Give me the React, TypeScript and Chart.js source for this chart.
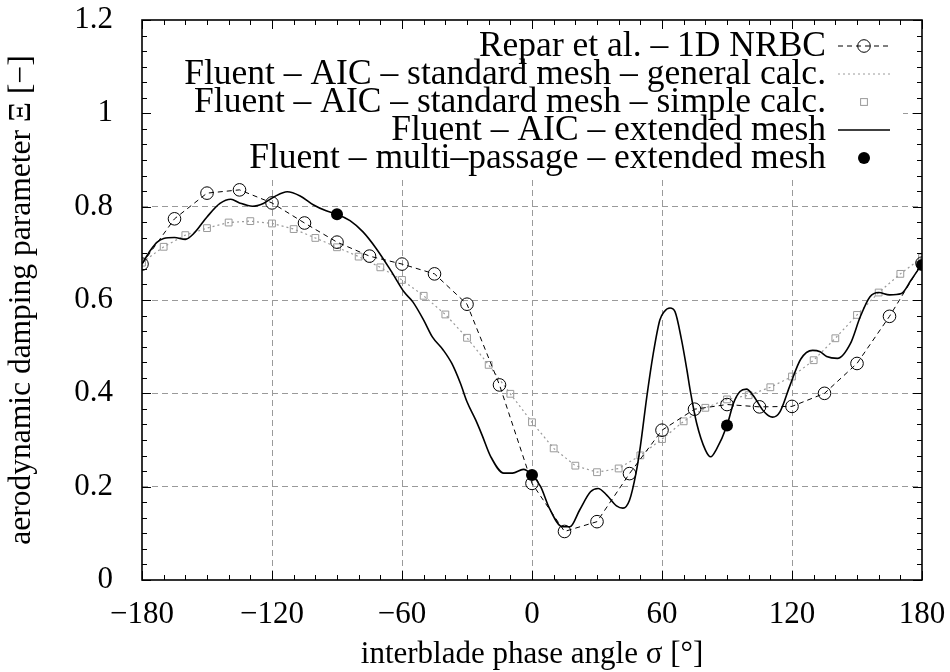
import React, { useEffect, useRef } from 'react';
import { Chart, registerables } from 'chart.js';
Chart.register(...registerables);

// Repar et al. – 1D NRBC
const reparAngles = [-180, -165, -150, -135, -120, -105, -90, -75, -60, -45, -30, -15, 0, 15, 30, 45, 60, 75, 90, 105, 120, 135, 150, 165, 180];
const reparValues = [0.677, 0.774, 0.829, 0.836, 0.808, 0.765, 0.724, 0.694, 0.677, 0.656, 0.591, 0.418, 0.207, 0.104, 0.125, 0.228, 0.321, 0.366, 0.376, 0.371, 0.372, 0.4, 0.464, 0.565, 0.679];

// Fluent – AIC – standard mesh
const stdAngles = [-180, -170, -160, -150, -140, -130, -120, -110, -100, -90, -80, -70, -60, -50, -40, -30, -20, -10, 0, 10, 20, 30, 40, 50, 60, 70, 80, 90, 100, 110, 120, 130, 140, 150, 160, 170, 180];
const generalCalcValues = [0.68, 0.714, 0.739, 0.754, 0.766, 0.769, 0.764, 0.752, 0.733, 0.713, 0.693, 0.67, 0.643, 0.609, 0.569, 0.519, 0.461, 0.399, 0.338, 0.282, 0.245, 0.231, 0.239, 0.267, 0.302, 0.34, 0.369, 0.387, 0.396, 0.413, 0.436, 0.471, 0.518, 0.568, 0.616, 0.656, 0.691];
const simpleCalcValues = [0.68, 0.714, 0.739, 0.754, 0.766, 0.769, 0.764, 0.752, 0.733, 0.713, 0.693, 0.67, 0.643, 0.609, 0.569, 0.519, 0.461, 0.399, 0.338, 0.282, 0.245, 0.231, 0.239, 0.267, 0.302, 0.34, 0.369, 0.387, 0.396, 0.413, 0.436, 0.471, 0.518, 0.568, 0.616, 0.656, 0.691];

// Fluent – AIC – extended mesh
const extAngles = [-180, -176, -173, -170, -165, -160, -156, -150, -144, -139, -135, -129, -124, -119, -113, -107, -101, -95, -90, -84, -78, -72, -65, -59, -55, -50, -46, -41, -37, -33, -30, -26, -23, -19, -13, -9, -4, 0, 4, 8, 14, 17.5, 22, 27, 30.5, 34.5, 39, 42, 45, 48, 50, 53, 56, 59, 61, 63.7, 66, 69, 71.5, 73, 76, 80, 82.5, 85, 90, 93, 96, 99, 102, 107, 111, 114.5, 119, 124, 129.5, 133, 136, 141, 147, 151.5, 156, 160, 165, 170.5, 175, 180];
const extValues = [0.677, 0.707, 0.724, 0.732, 0.734, 0.73, 0.743, 0.778, 0.807, 0.816, 0.808, 0.801, 0.807, 0.821, 0.832, 0.823, 0.804, 0.791, 0.784, 0.77, 0.746, 0.711, 0.662, 0.617, 0.596, 0.557, 0.521, 0.493, 0.464, 0.421, 0.382, 0.343, 0.31, 0.264, 0.229, 0.229, 0.237, 0.225, 0.2, 0.154, 0.114, 0.114, 0.15, 0.189, 0.196, 0.182, 0.159, 0.154, 0.171, 0.229, 0.286, 0.393, 0.486, 0.557, 0.575, 0.583, 0.575, 0.515, 0.45, 0.407, 0.336, 0.279, 0.264, 0.279, 0.331, 0.379, 0.404, 0.409, 0.396, 0.361, 0.349, 0.361, 0.416, 0.473, 0.492, 0.489, 0.479, 0.475, 0.507, 0.564, 0.607, 0.616, 0.611, 0.614, 0.643, 0.677];

// Fluent – multi–passage – extended mesh
const multiAngles = [-90, 0, 90, 180];
const multiValues = [0.784, 0.225, 0.331, 0.675];

const xTickValues = [-180, -120, -60, 0, 60, 120, 180];
const yTickValues = [0, 0.2, 0.4, 0.6, 0.8, 1, 1.2];

const legendLabels = [
  'Repar et al. – 1D NRBC',
  'Fluent – AIC – standard mesh – general calc.',
  'Fluent – AIC – standard mesh – simple calc.',
  'Fluent – AIC – extended mesh',
  'Fluent – multi–passage – extended mesh',
];

const xTitle = 'interblade phase angle σ [°]';
const yTitle = 'aerodynamic damping parameter Ξ [−]';

const FONT = '"Liberation Serif", "Times New Roman", serif';
const GRAY = '#9a9a9a';

const zip = (xs: number[], ys: number[]) => xs.map((x, i) => ({ x, y: ys[i] }));

const framePlugin = {
  id: 'frameAndKey',
  beforeDatasetsDraw(chart: any) {
    const { ctx, chartArea } = chart;
    const { left, top } = chartArea;
    ctx.save();
    // opaque key box
    ctx.fillStyle = '#fff';
    ctx.fillRect(left + 1, top + 1, 902 - left, 176 - top);
    const textRight = 826;
    const s0 = 838;
    const s1 = 890;
    const sm = (s0 + s1) / 2;
    const baselines = [56, 84, 112, 140, 168];
    ctx.font = `35.5px ${FONT}`;
    ctx.fillStyle = '#000';
    ctx.textAlign = 'right';
    ctx.textBaseline = 'alphabetic';
    legendLabels.forEach((t, i) => ctx.fillText(t, textRight, baselines[i]));
    const cy = baselines.map((b) => b - 10);
    // 1 dashed + circle
    ctx.strokeStyle = '#000';
    ctx.lineWidth = 1;
    ctx.setLineDash([5, 4]);
    ctx.beginPath();
    ctx.moveTo(s0, cy[0]);
    ctx.lineTo(s1, cy[0]);
    ctx.stroke();
    ctx.setLineDash([]);
    ctx.beginPath();
    ctx.arc(sm, cy[0], 6.3, 0, Math.PI * 2);
    ctx.stroke();
    // 2 dotted gray
    ctx.strokeStyle = GRAY;
    ctx.setLineDash([2, 3]);
    ctx.beginPath();
    ctx.moveTo(s0, cy[1]);
    ctx.lineTo(s1, cy[1]);
    ctx.stroke();
    ctx.setLineDash([]);
    // 3 gray square
    ctx.strokeRect(sm - 3.4, cy[2] - 3.4, 6.8, 6.8);
    // 4 solid
    ctx.strokeStyle = '#000';
    ctx.lineWidth = 1.6;
    ctx.beginPath();
    ctx.moveTo(s0, cy[3]);
    ctx.lineTo(s1, cy[3]);
    ctx.stroke();
    // 5 filled dot
    ctx.fillStyle = '#000';
    ctx.beginPath();
    ctx.arc(sm, cy[4], 6, 0, Math.PI * 2);
    ctx.fill();
    ctx.restore();
  },
  afterDatasetsDraw(chart: any) {
    const { ctx, chartArea, scales } = chart;
    const { left, top, right, bottom } = chartArea;
    const xs = scales.x;
    const ys = scales.y;
    ctx.save();
    ctx.strokeStyle = '#000';
    ctx.lineWidth = 1;
    const major = 9;
    const minor = 5;
    for (let v = -180; v <= 180; v += 10) {
      const px = Math.round(xs.getPixelForValue(v)) + 0.5;
      const len = v % 60 === 0 ? major : minor;
      ctx.beginPath();
      ctx.moveTo(px, bottom);
      ctx.lineTo(px, bottom - len);
      ctx.moveTo(px, top);
      ctx.lineTo(px, top + len);
      ctx.stroke();
    }
    for (let i = 0; i <= 36; i++) {
      const v = (i * 1.2) / 36;
      const py = Math.round(ys.getPixelForValue(v)) + 0.5;
      const len = i % 6 === 0 ? major : minor;
      ctx.beginPath();
      ctx.moveTo(left, py);
      ctx.lineTo(left + len, py);
      ctx.moveTo(right, py);
      ctx.lineTo(right - len, py);
      ctx.stroke();
    }
    ctx.lineWidth = 1.6;
    ctx.strokeRect(left, top, right - left, bottom - top);
    ctx.restore();
  },
};

export default function App() {
  const ref = useRef<HTMLCanvasElement>(null);
  useEffect(() => {
    document.body.style.margin = '0';
    const chart = new Chart(ref.current as HTMLCanvasElement, {
      type: 'scatter',
      data: {
        datasets: [
          {
            label: legendLabels[4],
            data: zip(multiAngles, multiValues),
            showLine: false,
            pointStyle: 'circle',
            pointRadius: 6,
            pointBackgroundColor: '#000',
            pointBorderColor: '#000',
            pointBorderWidth: 0,
            order: 0,
          },
          {
            label: legendLabels[3],
            data: zip(extAngles, extValues),
            showLine: true,
            borderColor: '#000',
            borderWidth: 1.6,
            pointRadius: 0,
            cubicInterpolationMode: 'monotone',
            order: 1,
          },
          {
            label: legendLabels[0],
            data: zip(reparAngles, reparValues),
            showLine: true,
            borderColor: '#000',
            borderWidth: 1,
            borderDash: [5, 4],
            pointStyle: 'circle',
            pointRadius: 6.3,
            pointBackgroundColor: 'rgba(0,0,0,0)',
            pointBorderColor: '#000',
            pointBorderWidth: 1,
            order: 2,
          },
          {
            label: legendLabels[2],
            data: zip(stdAngles, simpleCalcValues),
            showLine: false,
            pointStyle: 'rect',
            pointRadius: 4.8,
            pointBackgroundColor: 'rgba(0,0,0,0)',
            pointBorderColor: GRAY,
            pointBorderWidth: 1,
            order: 3,
          },
          {
            label: legendLabels[1],
            data: zip(stdAngles, generalCalcValues),
            showLine: true,
            borderColor: GRAY,
            borderWidth: 1.2,
            borderDash: [2, 3],
            pointRadius: 0,
            order: 4,
          },
        ],
      },
      options: {
        animation: false,
        responsive: false,
        maintainAspectRatio: false,
        devicePixelRatio: 1,
        layout: { padding: { top: 20, right: 28, left: 0, bottom: 0 } },
        plugins: { legend: { display: false }, tooltip: { enabled: false }, title: { display: false } },
        scales: {
          x: {
            type: 'linear',
            min: -180,
            max: 180,
            afterBuildTicks: (s: any) => {
              s.ticks = xTickValues.map((value) => ({ value }));
            },
            afterFit: (s: any) => {
              s.height = 92;
              s.paddingLeft = 0;
              s.paddingRight = 0;
            },
            ticks: {
              autoSkip: false,
              maxRotation: 0,
              padding: 19,
              color: '#000',
              font: { family: FONT, size: 31, lineHeight: 1 },
              callback: (v: any) => (v < 0 ? '−' + Math.abs(v) : String(v)),
            },
            grid: {
              drawTicks: false,
              lineWidth: 1,
              color: (c: any) => (c.tick && (c.tick.value === -180 || c.tick.value === 180) ? 'rgba(0,0,0,0)' : GRAY),
            },
            border: { display: false, dash: [6, 4] },
            title: {
              display: true,
              text: xTitle,
              color: '#000',
              font: { family: FONT, size: 31, lineHeight: 1 },
              padding: { top: 0, bottom: 2 },
            },
          },
          y: {
            type: 'linear',
            min: 0,
            max: 1.2,
            afterBuildTicks: (s: any) => {
              s.ticks = yTickValues.map((value) => ({ value }));
            },
            afterFit: (s: any) => {
              s.width = 142;
              s.paddingTop = 0;
              s.paddingBottom = 0;
            },
            ticks: {
              autoSkip: false,
              padding: 29,
              color: '#000',
              font: { family: FONT, size: 31, lineHeight: 1 },
              callback: (v: any) => String(v),
            },
            grid: {
              drawTicks: false,
              lineWidth: 1,
              color: (c: any) => (c.tick && (c.tick.value === 0 || c.tick.value === 1.2) ? 'rgba(0,0,0,0)' : GRAY),
            },
            border: { display: false, dash: [6, 4] },
            title: {
              display: true,
              text: yTitle,
              color: '#000',
              font: { family: FONT, size: 31.5, lineHeight: 1 },
              padding: { top: 6, bottom: 0 },
            },
          },
        },
      },
      plugins: [framePlugin],
    } as any);
    return () => chart.destroy();
  }, []);
  return (
    <div style={{ position: 'absolute', left: 0, top: 0, width: 950, height: 672, background: '#fff' }}>
      <canvas ref={ref} width={950} height={672} style={{ width: 950, height: 672, display: 'block' }} />
    </div>
  );
}
